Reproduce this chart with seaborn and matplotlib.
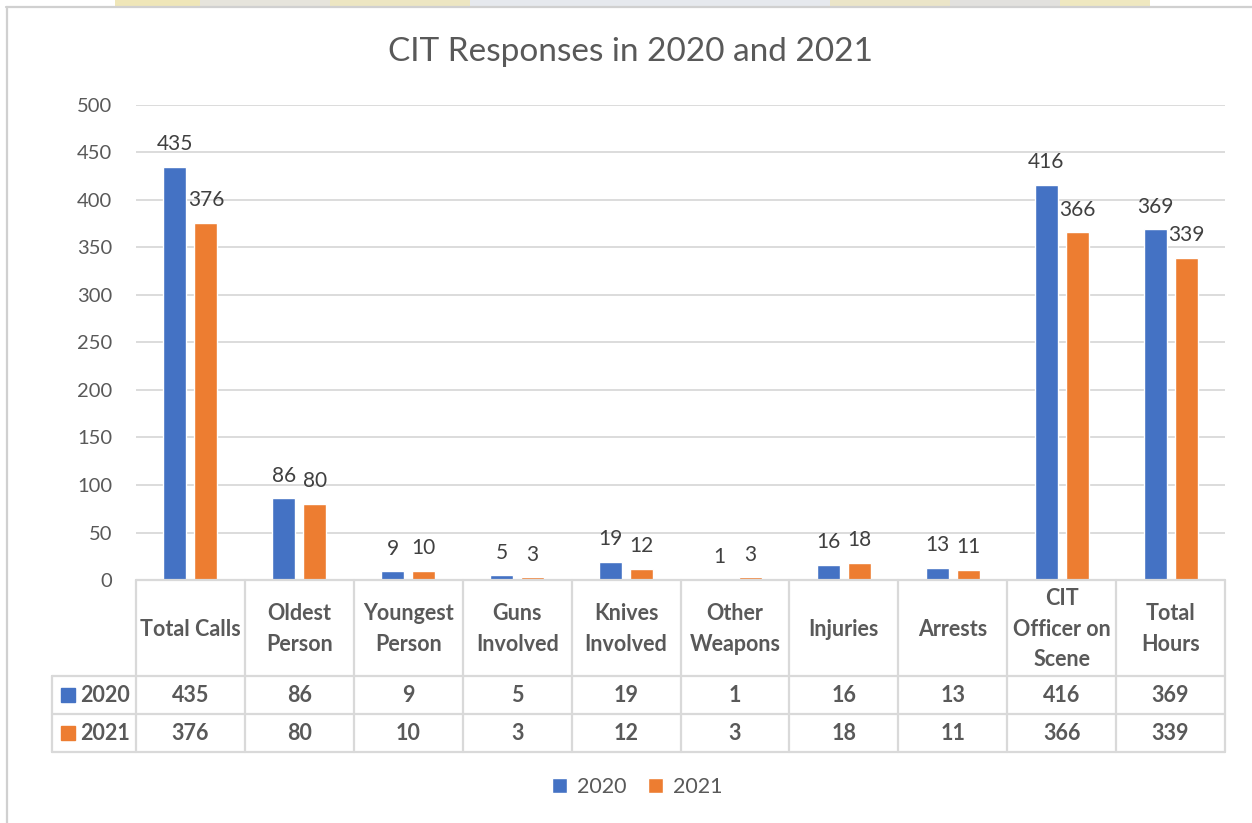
import numpy as np
import pandas as pd
import matplotlib
matplotlib.use("Agg")
import matplotlib.pyplot as plt
import matplotlib.transforms as mtransforms
from matplotlib.patches import Rectangle
from matplotlib.lines import Line2D
import seaborn as sns

# ---- data ----
categories = ["Total Calls", "Oldest\nPerson", "Youngest\nPerson", "Guns\nInvolved",
              "Knives\nInvolved", "Other\nWeapons", "Injuries", "Arrests",
              "CIT\nOfficer on\nScene", "Total\nHours"]
series_names = ["2020", "2021"]
values_2020 = [435, 86, 9, 5, 19, 1, 16, 13, 416, 369]
values_2021 = [376, 80, 10, 3, 12, 3, 18, 11, 366, 339]
yticks = [0, 50, 100, 150, 200, 250, 300, 350, 400, 450, 500]
title = "CIT Responses in 2020 and 2021"

colors = {"2020": "#4472C4", "2021": "#ED7D31"}
TXT = "#595959"
LBL = "#404040"
GRID = "#d9d9d9"

df = pd.DataFrame({
    "category": categories * 2,
    "year": ["2020"] * len(categories) + ["2021"] * len(categories),
    "value": values_2020 + values_2021,
})

sns.set_theme(style="white")
plt.rcParams["font.family"] = ["Lato", "DejaVu Sans"]

W, H = 1252, 823
fig = plt.figure(figsize=(W / 100, H / 100), dpi=100)
fig.patch.set_facecolor("white")

def fx(px):
    return px / W

def fy(py):
    return 1 - py / H

ax_l, ax_r, ax_t, ax_b = 136, 1225, 105, 580
ax = fig.add_axes([fx(ax_l), fy(ax_b), fx(ax_r - ax_l), (ax_b - ax_t) / H])

sns.barplot(data=df, x="category", y="value", hue="year", order=categories,
            hue_order=series_names, palette=colors, width=0.57, gap=0.26,
            ax=ax, errorbar=None, saturation=1)

ax.set_ylim(0, 500)
ax.set_xlim(-0.5, len(categories) - 0.5)
ax.set_yticks(yticks)
ax.set_yticklabels([str(t) for t in yticks], fontsize=14.5, color=TXT)
ax.tick_params(axis="y", length=0, pad=17)
ax.set_xticks([])
ax.set_xlabel("")
ax.set_ylabel("")
for s in ax.spines.values():
    s.set_visible(False)
ax.yaxis.grid(True, color=GRID, linewidth=1.3)
ax.set_axisbelow(True)

for cont in ax.containers:
    ax.bar_label(cont, padding=9, fontsize=15, color=LBL)

handles, labels = ax.get_legend_handles_labels()
if ax.get_legend() is not None:
    ax.get_legend().remove()

# ---- data table under the axes ----
trans = mtransforms.blended_transform_factory(ax.transData, fig.transFigure)
y_top, y_hdr, y_r1, y_r2 = 580, 676, 714, 752
lc = GRID
lw = 1.6
n = len(categories)
for i in range(n + 1):
    fig.add_artist(Line2D([i - 0.5, i - 0.5], [fy(y_top), fy(y_r2)], transform=trans,
                          color=lc, linewidth=lw))
fig.add_artist(Line2D([-0.5, n - 0.5], [fy(y_top), fy(y_top)], transform=trans,
                      color=lc, linewidth=lw))
for yy in (y_hdr, y_r1, y_r2):
    fig.add_artist(Line2D([fx(52), fx(ax_r)], [fy(yy), fy(yy)], transform=fig.transFigure,
                          color=lc, linewidth=lw))
fig.add_artist(Line2D([fx(52), fx(52)], [fy(y_hdr), fy(y_r2)], transform=fig.transFigure,
                      color=lc, linewidth=lw))

for i, cat in enumerate(categories):
    fig.text(i, fy((y_top + y_hdr) / 2 + 1), cat, transform=trans, ha="center", va="center",
             fontsize=15.5, fontweight="bold", color=TXT, linespacing=1.58)
    fig.text(i, fy((y_hdr + y_r1) / 2 + 1), str(values_2020[i]), transform=trans,
             ha="center", va="center", fontsize=15.5, fontweight="bold", color=TXT)
    fig.text(i, fy((y_r1 + y_r2) / 2 + 1), str(values_2021[i]), transform=trans,
             ha="center", va="center", fontsize=15.5, fontweight="bold", color=TXT)

for name, (ya, yb) in zip(series_names, [(y_hdr, y_r1), (y_r1, y_r2)]):
    yc = (ya + yb) / 2
    fig.add_artist(Rectangle((fx(61), fy(yc + 7)), fx(14), 14 / H,
                             transform=fig.transFigure, color=colors[name]))
    fig.text(fx(80), fy(yc + 1), name, ha="left", va="center", fontsize=15.5,
             fontweight="bold", color=TXT)

# ---- title ----
fig.text(fx(631), fy(52), title, ha="center", va="center", fontsize=24, color=TXT)

# ---- legend ----
leg = fig.legend(handles, labels, loc="center", bbox_to_anchor=(fx(637), fy(787)),
                 ncol=2, frameon=False, fontsize=15.5, handlelength=0.7, handleheight=0.7,
                 handletextpad=0.45, columnspacing=1.0)
for t in leg.get_texts():
    t.set_color(TXT)

# ---- chart border and background strip ----
strip = [(115, 200, "#efe6b8"), (200, 330, "#e6e4dc"), (330, 470, "#ede6c2"),
         (470, 830, "#e6e9ee"), (830, 950, "#ebe5c8"), (950, 1060, "#e2e1de"),
         (1060, 1150, "#efe8c0")]
for x0, x1, c in strip:
    fig.add_artist(Rectangle((fx(x0), fy(7)), fx(x1 - x0), 7 / H,
                             transform=fig.transFigure, color=c, linewidth=0))
fig.add_artist(Line2D([fx(6), 1], [fy(7), fy(7)], transform=fig.transFigure,
                      color="#d0d0d0", linewidth=1.6))
fig.add_artist(Line2D([fx(7), fx(7)], [fy(7), 0], transform=fig.transFigure,
                      color="#d0d0d0", linewidth=1.6))

fig.savefig("out.png", dpi=100, facecolor="white")
